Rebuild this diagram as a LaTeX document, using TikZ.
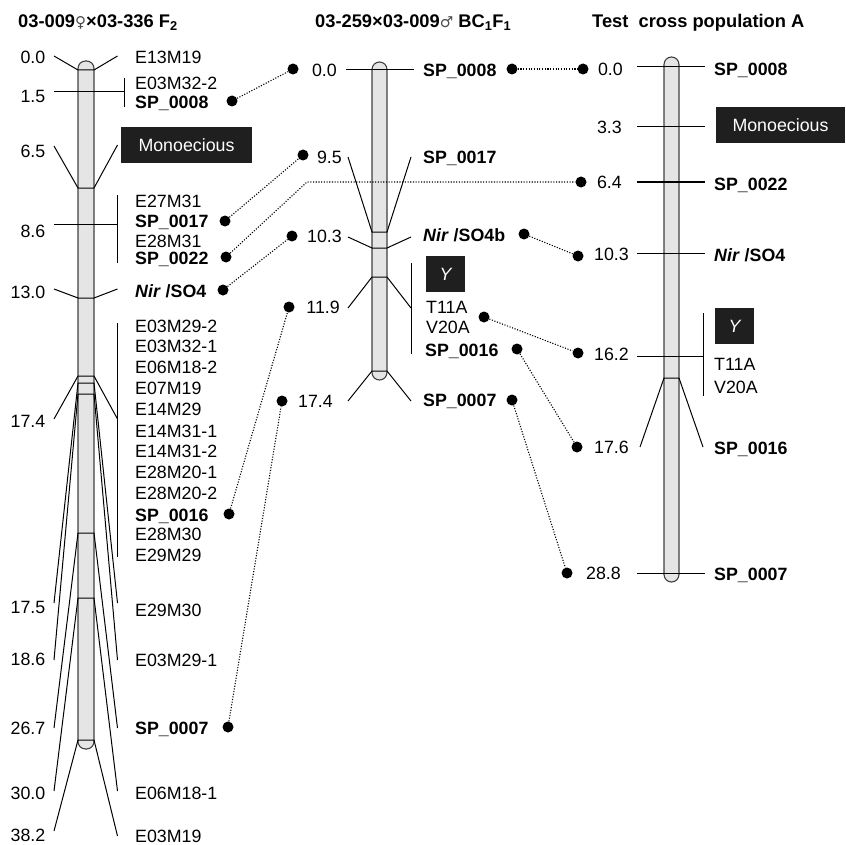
\documentclass[tikz,border=0pt]{standalone}
\usepackage{fontspec}
\setmainfont{Liberation Sans}
\newfontfamily\simbolo{DejaVu Sans}

\begin{document}
\begin{tikzpicture}[x=1pt, y=-1pt,
    txt/.style={font=\fontsize{17.8}{20}\selectfont, inner sep=0pt, text height=12.6pt, text depth=0pt},
    num/.style={txt, anchor=east},
    mk/.style={txt, anchor=west},
    mkb/.style={mk, font=\fontsize{17.8}{20}\selectfont\bfseries},
    caja/.style={txt, fill=black!88, text=white, minimum height=36pt},
    titulo/.style={anchor=base west, inner sep=0pt, font=\fontsize{18.3}{21}\selectfont\bfseries},
    crom/.style={draw=black!75, fill=black!10, line width=1.1pt, rounded corners=7.5pt},
    trazo/.style={line width=1pt},
    punto/.style={circle, fill=black, inner sep=0pt, minimum size=11pt},
    enlace/.style={line width=1.1pt, dash pattern=on 1.1pt off 1.6pt}]
    \useasboundingbox (0,0) rectangle (845,845);

    % Titulos de los tres mapas
    \node[titulo] (t1) at (18,28) {03-009{\simbolo\mdseries\fontsize{15}{18}\selectfont\color{black!70}♀}×03-336 F\textsubscript{2}};
    \node[titulo] (t2) at (315,28) {03-259×03-009{\simbolo\mdseries\fontsize{15}{18}\selectfont\color{black!70}♂} BC\textsubscript{1}F\textsubscript{1}};
    \node[titulo] (t3) at (592,28) {Test\ \ cross population A};

    % Mapa F2 (izquierda)
    \draw[crom] (78,61) rectangle (94,749);
    \foreach \n/\yl/\yc/\yr in {0/56/70/56, 65/146/188/145, 130/289/298/289,
        174/419/376/419, 175/603/383/603, 186/660/394/660, 267/728/533/728,
        300/791/598/791, 382/831/740/836} {
        \coordinate (Ai\n) at (54,\yl);
        \coordinate (Ac\n) at (78,\yc);
        \coordinate (Ad\n) at (94,\yc);
        \coordinate (Af\n) at (117.5,\yr);
        \draw[trazo] (Ai\n) -- (Ac\n) -- (Ad\n) -- (Af\n);
    }
    \coordinate (Ai15) at (54,92);  \coordinate (Af15) at (124,92);
    \coordinate (Ai86) at (54,224); \coordinate (Af86) at (117.5,224);
    \draw[trazo] (Ai15) -- (Af15) (Ai86) -- (Af86);
    % corchetes
    \coordinate (Ka1) at (124,78);   \coordinate (Kb1) at (124,107);
    \coordinate (Ka2) at (117.5,195); \coordinate (Kb2) at (117.5,263);
    \coordinate (Ka3) at (117.5,323); \coordinate (Kb3) at (117.5,557);
    \draw[trazo] (Ka1) -- (Kb1) (Ka2) -- (Kb2) (Ka3) -- (Kb3);

    \foreach \n/\y/\t in {00/57/0.0, 15/96/1.5, 65/151/6.5, 86/231/8.6, 130/292/13.0,
        174/421/17.4, 175/607/17.5, 186/659/18.6, 267/728/26.7, 300/793/30.0, 382/835/38.2}
        \node[num] (a\n) at (45.5,\y) {\t};

    \foreach \n/\y/\t in {1/57/E13M19, 2/83/E03M32-2, 4/201/E27M31, 6/241/E28M31,
        9/326/E03M29-2, 10/346/E03M32-1, 11/367/E06M18-2, 12/388/E07M19, 13/409/E14M29,
        14/431/E14M31-1, 15/451/E14M31-2, 16/472/E28M20-1, 17/493/E28M20-2,
        19/534/E28M30, 20/555/E29M29, 21/610/E29M30, 22/660/E03M29-1,
        24/793/E06M18-1, 25/836/E03M19}
        \node[mk] (mA\n) at (135,\y) {\t};
    \node[mkb] (mA3) at (135,102) {SP\_0008};
    \node[mkb] (mA5) at (135,221) {SP\_0017};
    \node[mkb] (mA7) at (135,258) {SP\_0022};
    \node[mkb] (mA8) at (135,291) {\textit{Nir} /SO4};
    \node[mkb] (mA18) at (135,515) {SP\_0016};
    \node[mkb] (mA23) at (135,728) {SP\_0007};
    \node[caja, minimum width=131pt] (monoA) at (186.5,145.5) {Monoecious};

    % Mapa BC1F1 (centro)
    \draw[crom] (372,62) rectangle (387,380);
    \foreach \n/\yl/\yc/\yr in {95/157/232/157, 103/237/248/237, 119/308/277/308, 174/401/371/401} {
        \coordinate (Bi\n) at (348,\yl);
        \coordinate (Bc\n) at (372,\yc);
        \coordinate (Bd\n) at (387,\yc);
        \coordinate (Bf\n) at (411,\yr);
        \draw[trazo] (Bi\n) -- (Bc\n) -- (Bd\n) -- (Bf\n);
    }
    \coordinate (Bi00) at (346,70); \coordinate (Bf00) at (414,70);
    \coordinate (Ka4) at (411,263); \coordinate (Kb4) at (411,354);
    \draw[trazo] (Bi00) -- (Bf00) (Ka4) -- (Kb4);

    \node[num] (b00) at (337,70) {0.0};
    \node[num] (b95) at (342,157) {9.5};
    \node[num] (b103) at (342,236) {10.3};
    \node[num] (b119) at (340,307) {11.9};
    \node[num] (b174) at (333,401) {17.4};

    \node[mkb] (mB1) at (423,70) {SP\_0008};
    \node[mkb] (mB2) at (423,157) {SP\_0017};
    \node[mkb] (mB3) at (423,235) {\textit{Nir} /SO4b};
    \node[caja, minimum width=39pt] (yB) at (445.5,274) {\itshape Y};
    \node[mk] (mB4) at (426,307) {T11A};
    \node[mk] (mB5) at (426,327) {V20A};
    \node[mkb] (mB6) at (425,350) {SP\_0016};
    \node[mkb] (mB7) at (423,400) {SP\_0007};

    % Mapa poblacion A (derecha)
    \draw[crom] (664,57) rectangle (679,582);
    \foreach \n/\y in {00/67, 33/127, 64/182, 103/253, 288/573} {
        \coordinate (Ci\n) at (637,\y);
        \coordinate (Cf\n) at (705,\y);
        \draw[trazo] (Ci\n) -- (Cf\n);
    }
    \coordinate (Ci162) at (637,356); \coordinate (Cf162) at (703,356);
    \coordinate (Ka5) at (703,313); \coordinate (Kb5) at (703,396);
    \coordinate (Ci176) at (640,447); \coordinate (Cc176) at (664,378);
    \coordinate (Cd176) at (679,378); \coordinate (Cf176) at (703,447);
    \draw[trazo] (Ci162) -- (Cf162) (Ka5) -- (Kb5);
    \draw[trazo] (Ci176) -- (Cc176) -- (Cd176) -- (Cf176);

    \node[num] (c00) at (623,69) {0.0};
    \node[num] (c33) at (622,127) {3.3};
    \node[num] (c64) at (622,182) {6.4};
    \node[num] (c103) at (629,254) {10.3};
    \node[num] (c162) at (629,354) {16.2};
    \node[num] (c176) at (629,447) {17.6};
    \node[num] (c288) at (621,573) {28.8};

    \node[mkb] (mC1) at (714,69) {SP\_0008};
    \node[caja, minimum width=129pt] (monoC) at (780.5,125) {Monoecious};
    \node[mkb] (mC2) at (714,184) {SP\_0022};
    \node[mkb] (mC3) at (714,255) {\textit{Nir} /SO4};
    \node[caja, minimum width=39pt] (yC) at (734.5,326) {\itshape Y};
    \node[mk] (mC4) at (714,364) {T11A};
    \node[mk] (mC5) at (714,387) {V20A};
    \node[mkb] (mC6) at (714,448) {SP\_0016};
    \node[mkb] (mC7) at (714,574) {SP\_0007};

    % Puntos y enlaces punteados
    \node[punto] (pA08) at (232,101) {};
    \node[punto] (pA17) at (225,221) {};
    \node[punto] (pA22) at (226,257) {};
    \node[punto] (pANir) at (223,290) {};
    \node[punto] (pA16) at (229,514) {};
    \node[punto] (pA07) at (228,727) {};

    \node[punto] (pB00) at (293,69) {};
    \node[punto] (pB95) at (303,155) {};
    \node[punto] (pB103) at (292,236) {};
    \node[punto] (pB119) at (289,307) {};
    \node[punto] (pB174) at (282,401) {};

    \node[punto] (qB08) at (512,69) {};
    \node[punto] (qBNir) at (524,234) {};
    \node[punto] (qBY) at (484,317) {};
    \node[punto] (qB16) at (517,349) {};
    \node[punto] (qB07) at (512,400) {};

    \node[punto] (pC00) at (583,69) {};
    \node[punto] (pC64) at (581,182) {};
    \node[punto] (pC103) at (578,256) {};
    \node[punto] (pC162) at (578,353) {};
    \node[punto] (pC176) at (577,447) {};
    \node[punto] (pC288) at (567,573) {};

    \coordinate (codo) at (307,182);
    \draw[enlace] (pA08) -- (pB00);
    \draw[enlace] (pA17) -- (pB95);
    \draw[enlace] (pA22) -- (codo) -- (pC64);
    \draw[enlace] (pANir) -- (pB103);
    \draw[enlace] (pA16) -- (pB119);
    \draw[enlace] (pA07) -- (pB174);
    \draw[enlace] (qB08) -- (pC00);
    \draw[enlace] (qBNir) -- (pC103);
    \draw[enlace] (qBY) -- (pC162);
    \draw[enlace] (qB16) -- (pC176);
    \draw[enlace] (qB07) -- (pC288);
\end{tikzpicture}
\end{document}
